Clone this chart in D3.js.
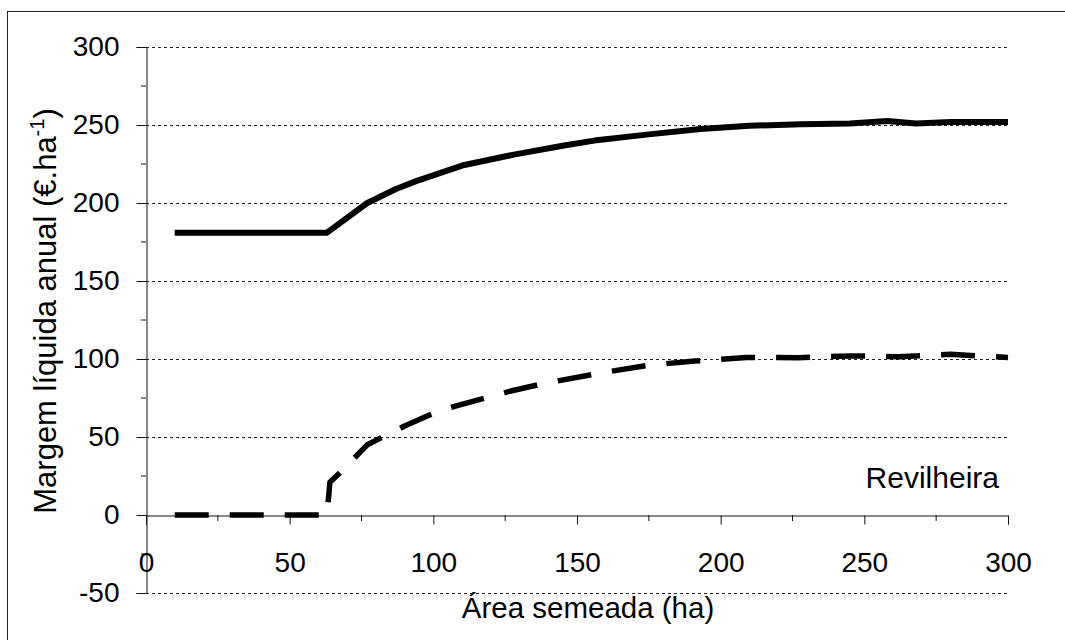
<!DOCTYPE html>
<html>
<head>
<meta charset="utf-8">
<script src="https://cdn.jsdelivr.net/npm/d3@7"></script>
<style>
  html, body { margin: 0; padding: 0; background: #fff; }
  svg { display: block; font-family: "Liberation Sans", Arial, sans-serif; }
</style>
</head>
<body>
<svg id="chart" width="1065" height="640"></svg>
<script>
// Área semeada (ha) and margem líquida anual (€/ha) for the two scenarios
const areaUpper   = [10, 63, 77, 87, 94, 110, 128, 146, 156, 175, 193, 210, 228, 245, 258, 268, 280, 300];
const margemUpper = [181, 181, 200, 209, 214, 224, 231, 237, 240, 244, 247.5, 249.5, 250.5, 251, 252.5, 251, 252, 252];

const areaLower   = [10, 63, 64, 68, 77, 90, 101, 108, 120, 127, 139, 158, 175, 191, 209, 227, 245, 262, 280, 300];
const margemLower = [0, 0, 21, 28, 45, 57, 66, 70, 76, 79.5, 84.5, 91, 96, 98.7, 101, 100.8, 102, 101.5, 103, 101];

const xTicks = [0, 50, 100, 150, 200, 250, 300];
const yTicks = [-50, 0, 50, 100, 150, 200, 250, 300];
const xMinor = d3.range(0, 301, 25);
const yMinor = d3.range(-50, 301, 25);

const svg = d3.select("#chart");

const x = d3.scaleLinear().domain([0, 300]).range([146, 1008]);
const y = d3.scaleLinear().domain([-50, 300]).range([593, 47]);

// plain integer labels with an ASCII hyphen for negatives
const plain = d => String(d);

// outer frame
svg.append("rect")
  .attr("x", 7.5).attr("y", 11.5)
  .attr("width", 1070).attr("height", 640)
  .attr("fill", "none").attr("stroke", "#222").attr("stroke-width", 1);

// horizontal dashed gridlines
svg.append("g")
  .selectAll("line")
  .data(yTicks.filter(d => d !== 0))
  .join("line")
  .attr("x1", x(0)).attr("x2", x(300))
  .attr("y1", d => Math.round(y(d)) + 0.5).attr("y2", d => Math.round(y(d)) + 0.5)
  .attr("stroke", "#222").attr("stroke-width", 1)
  .attr("stroke-dasharray", "3,3");

// y axis with major ticks and labels
const yAxis = svg.append("g")
  .attr("transform", `translate(${x(0) + 0.5},0)`)
  .call(d3.axisLeft(y).tickValues(yTicks).tickSize(10).tickPadding(17).tickFormat(plain));
yAxis.select(".domain").attr("stroke", "#111");
yAxis.selectAll(".tick line").attr("stroke", "#111");
yAxis.selectAll(".tick text")
  .attr("font-size", 28).attr("fill", "#000")
  .attr("font-family", "Liberation Sans, Arial, sans-serif");

// y minor ticks
svg.append("g")
  .selectAll("line")
  .data(yMinor.filter(d => !yTicks.includes(d)))
  .join("line")
  .attr("x1", x(0) - 5).attr("x2", x(0))
  .attr("y1", d => y(d)).attr("y2", d => y(d))
  .attr("stroke", "#111");

// x axis drawn on the zero line
const xAxis = svg.append("g")
  .attr("transform", `translate(0,${Math.round(y(0)) + 0.5})`)
  .call(d3.axisBottom(x).tickValues(xTicks).tickSize(9).tickPadding(28).tickFormat(plain));
xAxis.select(".domain").attr("stroke", "#111");
xAxis.selectAll(".tick line").attr("stroke", "#111");
xAxis.selectAll(".tick text")
  .attr("font-size", 28).attr("fill", "#000")
  .attr("font-family", "Liberation Sans, Arial, sans-serif");

// x minor ticks
svg.append("g")
  .selectAll("line")
  .data(xMinor.filter(d => !xTicks.includes(d)))
  .join("line")
  .attr("x1", d => x(d)).attr("x2", d => x(d))
  .attr("y1", y(0)).attr("y2", y(0) + 6)
  .attr("stroke", "#111");

const line = d3.line().x(d => x(d[0])).y(d => y(d[1]));

// upper scenario: solid line
svg.append("path")
  .datum(d3.zip(areaUpper, margemUpper))
  .attr("d", line)
  .attr("fill", "none").attr("stroke", "#000")
  .attr("stroke-width", 6).attr("stroke-linejoin", "round");

// lower scenario: dashed line
svg.append("path")
  .datum(d3.zip(areaLower, margemLower))
  .attr("d", line)
  .attr("fill", "none").attr("stroke", "#000")
  .attr("stroke-width", 5.5).attr("stroke-linejoin", "round")
  .attr("stroke-dasharray", "34,21");

// site label
svg.append("text")
  .attr("x", 999).attr("y", 488)
  .attr("text-anchor", "end")
  .attr("font-size", 30)
  .text("Revilheira");

// axis titles
svg.append("text")
  .attr("x", 588).attr("y", 618)
  .attr("text-anchor", "middle")
  .attr("font-size", 29.5)
  .text("Área semeada (ha)");

const yTitle = svg.append("text")
  .attr("transform", "translate(56,311) rotate(-90)")
  .attr("text-anchor", "middle")
  .attr("font-size", 31);
yTitle.append("tspan").text("Margem líquida anual (€.ha");
yTitle.append("tspan").attr("font-size", 20).attr("dy", -12).text("-1");
yTitle.append("tspan").attr("dy", 12).text(")");
</script>
</body>
</html>
